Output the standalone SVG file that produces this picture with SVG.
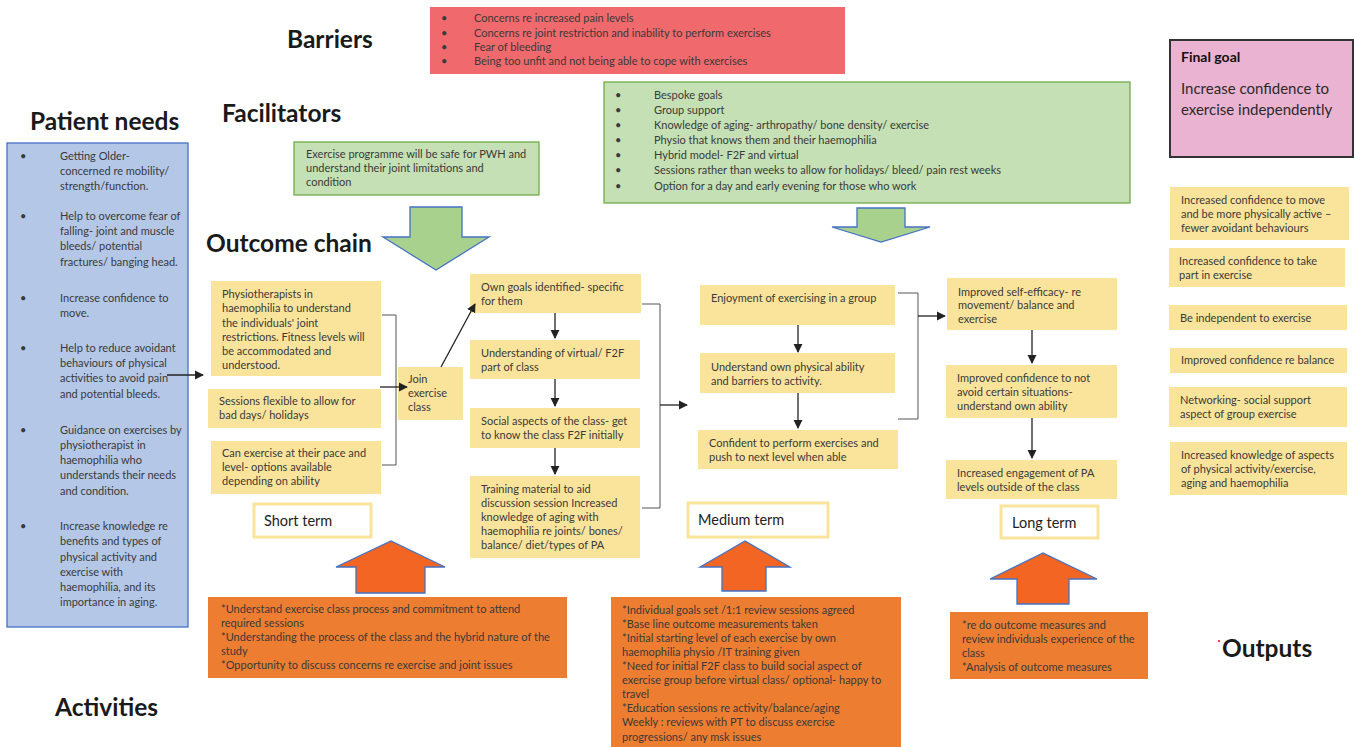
<svg xmlns="http://www.w3.org/2000/svg" width="1354" height="747" viewBox="0 0 1354 747" xml:space="preserve">
<style>
.t{font-family:Lato,"Liberation Sans",sans-serif;font-size:11px;fill:#3a3a3a;white-space:pre}
.h{font-family:Lato,"Liberation Sans",sans-serif;font-size:24.5px;font-weight:bold;fill:#1a1a1a}
.y{fill:#FAE49B}
.o{fill:#ED7D31}
.lbl{fill:#fff;stroke:#FAE49B;stroke-width:3}
.lt{font-family:Lato,"Liberation Sans",sans-serif;font-size:14.5px;fill:#222}
.c{fill:none;stroke:#222;stroke-width:1.3}
.b{fill:none;stroke:#555;stroke-width:1}
.ga{fill:#A9D18E;stroke:#4472C4;stroke-width:1.3}
.oa{fill:#F26522;stroke:#4472C4;stroke-width:1.3}
</style>
<defs>
<marker id="ah" viewBox="0 0 10 10" refX="9" refY="5" markerWidth="7" markerHeight="7" orient="auto"><path d="M0,0 L10,5 L0,10 z" fill="#222"/></marker>
</defs>
<rect width="1354" height="747" fill="#fff"/>

<g id="titles">
<text class="h" x="287" y="48">Barriers</text>
<text class="h" x="222" y="122">Facilitators</text>
<text class="h" x="30" y="130">Patient needs</text>
<text class="h" x="206" y="252">Outcome chain</text>
<text class="h" x="55" y="716">Activities</text>
<text class="h" x="1222" y="657">Outputs</text>
<circle cx="1219" cy="641" r="1" fill="#e00"/>
</g>

<g id="barriers">
<rect x="430" y="7" width="415" height="67" fill="#F0696C"/>
<g class="t">
<text x="441" y="22">•</text><text x="474" y="22">Concerns re increased pain levels</text>
<text x="441" y="37">•</text><text x="474" y="37">Concerns re  joint restriction and inability to perform exercises</text>
<text x="441" y="51">•</text><text x="474" y="51">Fear of bleeding</text>
<text x="441" y="65">•</text><text x="474" y="65">Being too unfit and not being able to cope with exercises</text>
</g>
</g>

<g id="facilitators-right">
<rect x="604" y="82" width="526" height="121" fill="#C5E0B4" stroke="#70AD47" stroke-width="1.3"/>
<g class="t">
<text x="615" y="99">•</text><text x="654" y="99">Bespoke goals</text>
<text x="615" y="114">•</text><text x="654" y="114">Group support</text>
<text x="615" y="129">•</text><text x="654" y="129">Knowledge of aging- arthropathy/ bone density/ exercise</text>
<text x="615" y="144">•</text><text x="654" y="144">Physio that knows them and their haemophilia</text>
<text x="615" y="159">•</text><text x="654" y="159">Hybrid model- F2F and virtual</text>
<text x="615" y="174">•</text><text x="654" y="174">Sessions rather than weeks to allow for holidays/ bleed/ pain rest weeks</text>
<text x="615" y="190">•</text><text x="654" y="190">Option for a day and early evening for those who work</text>
</g>
</g>

<g id="facilitators-left">
<rect x="294" y="142" width="245" height="53" fill="#C5E0B4" stroke="#70AD47" stroke-width="1.3"/>
<g class="t">
<text x="306" y="158">Exercise programme will be safe for PWH and</text>
<text x="306" y="172">understand their joint limitations and</text>
<text x="306" y="186">condition</text>
</g>
</g>

<g id="green-arrows">
<path class="ga" d="M410,207 H462 V237 H489 L436,270 L383,237 H410 Z"/>
<path class="ga" d="M857,208 H905 V227 H930 L881,242 L832,227 H857 Z"/>
</g>

<g id="patient-needs">
<rect x="7" y="143" width="181" height="484" fill="#B4C7E7" stroke="#4472C4" stroke-width="1.3"/>
<g class="t">
<text x="20" y="160">•</text>
<text x="60" y="160">Getting Older-</text>
<text x="60" y="175">concerned re mobility/</text>
<text x="60" y="190">strength/function.</text>
<text x="20" y="220">•</text>
<text x="60" y="220">Help to overcome fear of</text>
<text x="60" y="235">falling-  joint and muscle</text>
<text x="60" y="250">bleeds/ potential</text>
<text x="60" y="266">fractures/ banging head.</text>
<text x="20" y="302">•</text>
<text x="60" y="302">Increase confidence to</text>
<text x="60" y="317">move.</text>
<text x="20" y="352">•</text>
<text x="60" y="352"> Help to  reduce avoidant</text>
<text x="60" y="367">behaviours of physical</text>
<text x="60" y="382">activities to avoid pain</text>
<text x="60" y="398">and potential bleeds.</text>
<text x="20" y="434">•</text>
<text x="60" y="434">Guidance on exercises by</text>
<text x="60" y="449">physiotherapist  in</text>
<text x="60" y="464">haemophilia who</text>
<text x="60" y="479">understands their needs</text>
<text x="60" y="495">and condition.</text>
<text x="20" y="530">•</text>
<text x="60" y="530">Increase knowledge re</text>
<text x="60" y="545">benefits and types of</text>
<text x="60" y="561">physical activity and</text>
<text x="60" y="576">exercise with</text>
<text x="60" y="591">haemophilia,  and its</text>
<text x="60" y="606">importance in aging.</text>
</g>
</g>

<g id="short-term">
<rect class="y" x="211" y="281" width="170" height="95"/>
<g class="t">
<text x="222" y="298">Physiotherapists in</text>
<text x="222" y="312">haemophilia to understand</text>
<text x="222" y="327">the individuals' joint</text>
<text x="222" y="341">restrictions. Fitness levels will</text>
<text x="222" y="355">be accommodated and</text>
<text x="222" y="369">understood.</text>
</g>
<rect class="y" x="208" y="389" width="173" height="39"/>
<g class="t">
<text x="219" y="405">Sessions flexible to allow for</text>
<text x="219" y="419">bad days/ holidays</text>
</g>
<rect class="y" x="211" y="441" width="170" height="53"/>
<g class="t">
<text x="222" y="457">Can exercise at their pace and</text>
<text x="222" y="471">level- options available</text>
<text x="222" y="485">depending on ability</text>
</g>
<rect class="y" x="398" y="367" width="65" height="53"/>
<g class="t">
<text x="408" y="383">Join</text>
<text x="408" y="397">exercise</text>
<text x="408" y="411">class</text>
</g>
</g>

<g id="class-steps">
<rect class="y" x="470" y="274" width="171" height="39"/>
<g class="t"><text x="481" y="291">Own goals identified- specific</text><text x="481" y="305">for them</text></g>
<rect class="y" x="470" y="340" width="170" height="39"/>
<g class="t"><text x="481" y="357"> Understanding of  virtual/ F2F</text><text x="481" y="371">part of class</text></g>
<rect class="y" x="470" y="408" width="170" height="40"/>
<g class="t"><text x="481" y="425">Social aspects of the class- get</text><text x="481" y="439">to know the class F2F initially</text></g>
<rect class="y" x="470" y="476" width="170" height="82"/>
<g class="t">
<text x="481" y="493"> Training material to aid</text>
<text x="481" y="507">discussion session Increased</text>
<text x="481" y="521">knowledge of aging with</text>
<text x="481" y="535">haemophilia re joints/ bones/</text>
<text x="481" y="549">balance/ diet/types of PA</text>
</g>
</g>

<g id="medium-term">
<rect class="y" x="700" y="285" width="195" height="40"/>
<g class="t"><text x="711" y="302">Enjoyment of exercising in a group</text></g>
<rect class="y" x="700" y="353" width="195" height="40"/>
<g class="t"><text x="711" y="371">Understand own physical ability</text><text x="711" y="385">and barriers to activity.</text></g>
<rect class="y" x="698" y="430" width="200" height="39"/>
<g class="t"><text x="709" y="447">Confident to perform exercises and</text><text x="709" y="461">push to next level when able</text></g>
</g>

<g id="long-term">
<rect class="y" x="947" y="278" width="170" height="52"/>
<g class="t"><text x="958" y="296">Improved self-efficacy- re</text><text x="958" y="309">movement/ balance and</text><text x="958" y="323">exercise</text></g>
<rect class="y" x="946" y="365" width="171" height="53"/>
<g class="t"><text x="957" y="382">Improved  confidence to not</text><text x="957" y="396">avoid certain situations-</text><text x="957" y="410">understand own ability</text></g>
<rect class="y" x="946" y="460" width="171" height="39"/>
<g class="t"><text x="957" y="477">Increased engagement of PA</text><text x="957" y="491">levels outside of the class</text></g>
</g>

<g id="term-labels">
<rect class="lbl" x="254" y="504" width="117" height="33"/>
<text class="lt" x="264" y="526">Short term</text>
<rect class="lbl" x="688" y="503" width="140" height="34"/>
<text class="lt" x="698" y="525">Medium term</text>
<rect class="lbl" x="1001" y="506" width="97" height="32"/>
<text class="lt" x="1012" y="528">Long term</text>
</g>

<g id="orange-arrows">
<path class="oa" d="M356,593 V567 H336 L391,541 L445,567 H425 V593 Z"/>
<path class="oa" d="M722,591 V567 H700 L745,541 L790,567 H766 V591 Z"/>
<path class="oa" d="M1017,604 V579 H990 L1043,553 L1097,579 H1069 V604 Z"/>
</g>

<g id="activities">
<rect class="o" x="208" y="597" width="359" height="81"/>
<g class="t">
<text x="221" y="613">*Understand exercise class process and commitment to attend</text>
<text x="221" y="627">required sessions</text>
<text x="221" y="641">*Understanding the process of the class and the hybrid nature of the</text>
<text x="221" y="655">study</text>
<text x="221" y="669">*Opportunity to discuss concerns re exercise and joint issues</text>
</g>
<rect class="o" x="611" y="597" width="290" height="150"/>
<g class="t">
<text x="622" y="614">*Individual goals set /1:1 review sessions agreed</text>
<text x="622" y="628">*Base line outcome measurements taken</text>
<text x="622" y="642">*Initial starting level of each exercise by own</text>
<text x="622" y="656">haemophilia physio /IT training given</text>
<text x="622" y="670">*Need for initial F2F class to build social aspect of</text>
<text x="622" y="684">exercise group before virtual class/ optional- happy to</text>
<text x="622" y="698">travel</text>
<text x="622" y="712">*Education sessions re activity/balance/aging</text>
<text x="622" y="726">Weekly : reviews with PT to discuss exercise</text>
<text x="622" y="741">progressions/ any msk issues</text>
</g>
<rect class="o" x="950" y="612" width="198" height="67"/>
<g class="t">
<text x="962" y="629">*re do outcome measures and</text>
<text x="962" y="643">review individuals experience of the</text>
<text x="962" y="657">class</text>
<text x="962" y="671"> *Analysis of outcome measures</text>
</g>
</g>

<g id="final-goal">
<rect x="1170" y="40" width="183" height="117" fill="#EBB3D2" stroke="#333" stroke-width="2"/>
<text x="1181" y="62" style="font-family:Lato,'Liberation Sans',sans-serif;font-size:14px;font-weight:bold;fill:#111">Final goal</text>
<text x="1181" y="94" style="font-family:Lato,'Liberation Sans',sans-serif;font-size:15px;fill:#2a2a2a">Increase confidence to</text>
<text x="1181" y="115" style="font-family:Lato,'Liberation Sans',sans-serif;font-size:15px;fill:#2a2a2a">exercise independently</text>
</g>

<g id="outcomes">
<rect class="y" x="1170" y="187" width="179" height="53"/>
<g class="t"><text x="1181" y="204">Increased confidence to move</text><text x="1181" y="218">and be more physically active –</text><text x="1181" y="232">fewer avoidant behaviours</text></g>
<rect class="y" x="1169" y="248" width="176" height="39"/>
<g class="t"><text x="1179" y="265">Increased confidence to take</text><text x="1179" y="279">part in exercise</text></g>
<rect class="y" x="1169" y="305" width="178" height="25"/>
<g class="t"><text x="1180" y="322">Be independent to exercise</text></g>
<rect class="y" x="1170" y="348" width="177" height="25"/>
<g class="t"><text x="1181" y="364">Improved confidence re balance</text></g>
<rect class="y" x="1169" y="387" width="178" height="40"/>
<g class="t"><text x="1180" y="404">Networking- social support</text><text x="1180" y="418">aspect of group exercise</text></g>
<rect class="y" x="1170" y="442" width="177" height="53"/>
<g class="t"><text x="1181" y="459">Increased knowledge of aspects</text><text x="1181" y="473">of physical activity/exercise,</text><text x="1181" y="487">aging and haemophilia</text></g>
</g>

<g id="connectors">
<line class="c" x1="167" y1="375" x2="203" y2="375" marker-end="url(#ah)"/>
<path class="b" d="M382,315 H396 V465 H382"/>
<line class="c" x1="380" y1="387" x2="407" y2="387" marker-end="url(#ah)"/>
<line class="c" x1="441" y1="367" x2="475" y2="304" marker-end="url(#ah)"/>
<line class="c" x1="555" y1="313" x2="555" y2="338" marker-end="url(#ah)"/>
<line class="c" x1="555" y1="379" x2="555" y2="406" marker-end="url(#ah)"/>
<line class="c" x1="555" y1="448" x2="555" y2="474" marker-end="url(#ah)"/>
<path class="b" d="M642,304 H660 V508 H642"/>
<line class="c" x1="660" y1="405" x2="687" y2="405" marker-end="url(#ah)"/>
<line class="c" x1="798" y1="325" x2="798" y2="352" marker-end="url(#ah)"/>
<line class="c" x1="798" y1="393" x2="798" y2="428" marker-end="url(#ah)"/>
<path class="b" d="M898,293 H918 V419 H898"/>
<line class="c" x1="918" y1="316" x2="945" y2="316" marker-end="url(#ah)"/>
<line class="c" x1="1032" y1="330" x2="1032" y2="363" marker-end="url(#ah)"/>
<line class="c" x1="1032" y1="418" x2="1032" y2="458" marker-end="url(#ah)"/>
</g>
</svg>
